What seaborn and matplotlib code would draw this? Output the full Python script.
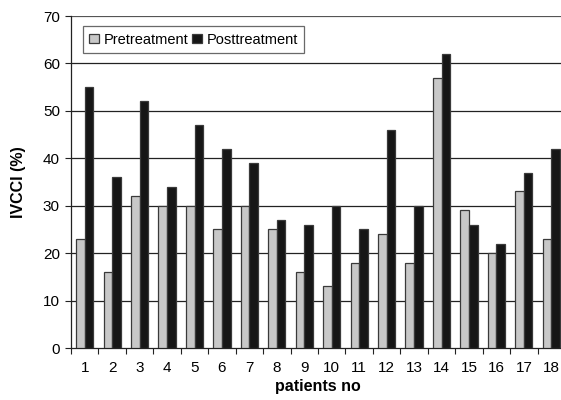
import matplotlib
matplotlib.use("Agg")
import matplotlib.pyplot as plt
import numpy as np
import pandas as pd
import seaborn as sns

patients = [str(i) for i in range(1, 19)]
pretreatment = [23, 16, 32, 30, 30, 25, 30, 25, 16, 13, 18, 24, 18, 57, 29, 20, 33, 23]
posttreatment = [55, 36, 52, 34, 47, 42, 39, 27, 26, 30, 25, 46, 30, 62, 26, 22, 37, 42]

df = pd.DataFrame({
    "patient": patients * 2,
    "ivcci": pretreatment + posttreatment,
    "phase": ["Pretreatment"] * len(patients) + ["Posttreatment"] * len(patients),
})

sns.set_theme(style="white")
plt.rcParams["font.family"] = ["Liberation Sans", "DejaVu Sans"]
plt.rcParams["text.color"] = "black"
plt.rcParams["axes.labelcolor"] = "black"
plt.rcParams["xtick.color"] = "black"
plt.rcParams["ytick.color"] = "black"

fig = plt.figure(figsize=(5.61, 4.0), dpi=100)
ax = fig.add_axes([71 / 561, 52 / 400, 494 / 561, 332 / 400])

sns.barplot(
    data=df, x="patient", y="ivcci", hue="phase", ax=ax,
    palette={"Pretreatment": "#c8c8c8", "Posttreatment": "#161616"},
    width=0.63, gap=0, edgecolor="#3a3a3a", linewidth=0.9, saturation=1,
    zorder=3,
)

ax.set_ylim(0, 70)
ax.set_xlim(-0.5, len(patients) - 0.5)
ax.set_yticks(np.arange(0, 71, 10))
for y in range(10, 70, 10):
    ax.axhline(y, color="#222222", lw=0.9, zorder=1)
ax.axhline(70, color="#555555", lw=1.6, zorder=1)

for side in ["top", "right"]:
    ax.spines[side].set_visible(False)
ax.spines["left"].set_color("#222222")
ax.spines["bottom"].set_color("#222222")
ax.spines["left"].set_linewidth(0.9)
ax.spines["bottom"].set_linewidth(0.9)

ax.tick_params(axis="y", which="major", left=True, length=4, width=0.8,
               color="#222222", labelsize=11, pad=4, direction="out")
ax.tick_params(axis="x", which="major", length=0, labelsize=11, pad=9)
ax.set_xticks(np.arange(-0.5, len(patients), 1.0), minor=True)
ax.tick_params(axis="x", which="minor", bottom=True, length=4, width=0.8,
               color="#222222", direction="out")

ax.set_xlabel("patients no", fontsize=11.5, fontweight="bold", labelpad=3)
ax.set_ylabel("IVCCI (%)", fontsize=11.5, fontweight="bold", labelpad=12)

leg = ax.legend(loc="upper left", bbox_to_anchor=(0.024, 0.970), ncol=2,
                frameon=True, fancybox=False, fontsize=10.5, handlelength=0.65,
                handleheight=0.65, handletextpad=0.3, columnspacing=0.3,
                borderpad=0.45, borderaxespad=0, title=None)
leg.get_frame().set_edgecolor("#444444")
leg.get_frame().set_linewidth(0.9)

fig.savefig("out.png", dpi=100)
